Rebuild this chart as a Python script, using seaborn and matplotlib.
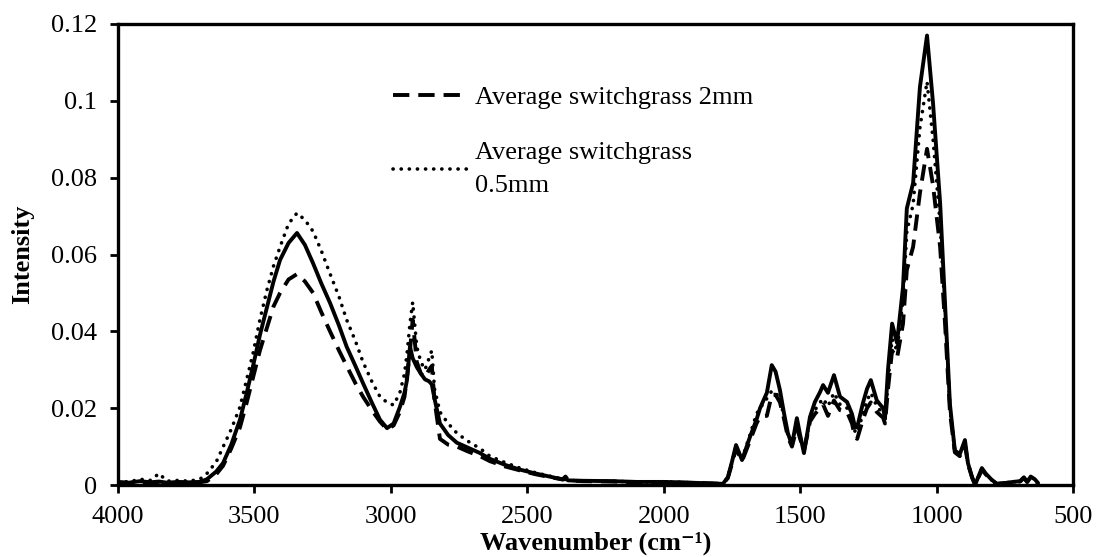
import numpy as np
import pandas as pd
import matplotlib
matplotlib.use("Agg")
import matplotlib.pyplot as plt
import seaborn as sns

wavenumber = [
    4000, 3960, 3920, 3880, 3850, 3820, 3780, 3740, 3700, 3674,
    3640, 3615, 3585, 3553, 3530, 3505, 3480, 3454, 3430, 3406,
    3375, 3344, 3315, 3285, 3255, 3223, 3190, 3162, 3130, 3102,
    3070, 3040, 3014, 2990, 2967, 2950, 2941, 2930, 2920, 2905,
    2890, 2875, 2860, 2850, 2840, 2820, 2790, 2758, 2720, 2673,
    2637, 2580, 2527, 2470, 2406, 2370, 2360, 2350, 2300, 2186,
    2100, 2000, 1940, 1860, 1783, 1765, 1750, 1735, 1713, 1684,
    1660, 1647, 1622, 1604, 1590, 1574, 1560, 1545, 1530, 1512,
    1500, 1486, 1475, 1464, 1446, 1427, 1416, 1398, 1376, 1354,
    1328, 1310, 1299, 1291, 1270, 1255, 1241, 1219, 1196, 1189,
    1178, 1163, 1145, 1123, 1109, 1086, 1061, 1035, 1013, 987,
    969, 951, 933, 915, 896, 885, 870, 859, 845, 834,
    820, 800, 779, 750, 720, 694, 680, 668, 655, 640,
    628,
]

solid = [
    0.0008, 0.0006, 0.0010, 0.0007, 0.0009, 0.0006, 0.0008, 0.0007, 0.0008, 0.0015,
    0.0035, 0.0057, 0.0105, 0.0170, 0.0235, 0.0310, 0.0390, 0.0463, 0.0530, 0.0586,
    0.0630, 0.0656, 0.0625, 0.0577, 0.0525, 0.0474, 0.0415, 0.0360, 0.0310, 0.0265,
    0.0215, 0.0170, 0.0148, 0.0160, 0.0203, 0.0240, 0.0273, 0.0360, 0.0330, 0.0307,
    0.0290, 0.0275, 0.0270, 0.0262, 0.0225, 0.0160, 0.0130, 0.0110, 0.0098, 0.0083,
    0.0068, 0.0052, 0.0040, 0.0030, 0.0020, 0.0014, 0.0016, 0.0012, 0.0011, 0.0010,
    0.0008, 0.0008, 0.0007, 0.0005, 0.0003, 0.0020, 0.0060, 0.0104, 0.0065, 0.0125,
    0.0170, 0.0200, 0.0240, 0.0312, 0.0295, 0.0247, 0.0190, 0.0135, 0.0104, 0.0174,
    0.0130, 0.0083, 0.0130, 0.0177, 0.0216, 0.0242, 0.0260, 0.0240, 0.0286, 0.0230,
    0.0216, 0.0185, 0.0151, 0.0150, 0.0213, 0.0250, 0.0273, 0.0220, 0.0200, 0.0174,
    0.0300, 0.0420, 0.0370, 0.0515, 0.0720, 0.0786, 0.1036, 0.1170, 0.0994, 0.0734,
    0.0470, 0.0210, 0.0090, 0.0080, 0.0117, 0.0057, 0.0020, 0.0000, 0.0025, 0.0044,
    0.0030, 0.0015, 0.0003, 0.0005, 0.0008, 0.0010, 0.0020, 0.0008, 0.0022, 0.0015,
    0.0005,
]

switchgrass_2mm = [
    0.0006, 0.0005, 0.0008, 0.0006, 0.0007, 0.0005, 0.0006, 0.0006, 0.0007, 0.0010,
    0.0028, 0.0050, 0.0095, 0.0150, 0.0210, 0.0280, 0.0350, 0.0410, 0.0465, 0.0500,
    0.0535, 0.0549, 0.0530, 0.0500, 0.0450, 0.0400, 0.0350, 0.0310, 0.0265, 0.0230,
    0.0195, 0.0165, 0.0145, 0.0155, 0.0190, 0.0230, 0.0280, 0.0350, 0.0430, 0.0320,
    0.0290, 0.0280, 0.0300, 0.0310, 0.0220, 0.0120, 0.0105, 0.0100, 0.0088, 0.0075,
    0.0062, 0.0048, 0.0038, 0.0028, 0.0019, 0.0015, 0.0022, 0.0012, 0.0010, 0.0009,
    0.0007, 0.0007, 0.0006, 0.0005, 0.0003, 0.0018, 0.0055, 0.0095, 0.0062, 0.0115,
    0.0160, 0.0178, 0.0180, 0.0235, 0.0235, 0.0215, 0.0175, 0.0125, 0.0100, 0.0150,
    0.0120, 0.0090, 0.0125, 0.0165, 0.0185, 0.0200, 0.0210, 0.0180, 0.0220, 0.0195,
    0.0190, 0.0160, 0.0125, 0.0120, 0.0170, 0.0200, 0.0215, 0.0190, 0.0175, 0.0160,
    0.0250, 0.0350, 0.0330, 0.0420, 0.0560, 0.0620, 0.0760, 0.0875, 0.0780, 0.0620,
    0.0420, 0.0190, 0.0085, 0.0075, 0.0105, 0.0055, 0.0020, 0.0003, 0.0022, 0.0040,
    0.0028, 0.0013, 0.0003, 0.0005, 0.0007, 0.0009, 0.0018, 0.0008, 0.0020, 0.0013,
    0.0004,
]

switchgrass_05mm = [
    0.0010, 0.0008, 0.0015, 0.0012, 0.0030, 0.0010, 0.0012, 0.0010, 0.0015, 0.0030,
    0.0060, 0.0099, 0.0145, 0.0203, 0.0270, 0.0343, 0.0430, 0.0508, 0.0570, 0.0620,
    0.0680, 0.0708, 0.0690, 0.0660, 0.0610, 0.0550, 0.0490, 0.0430, 0.0375, 0.0320,
    0.0270, 0.0230, 0.0215, 0.0208, 0.0240, 0.0290, 0.0340, 0.0420, 0.0476, 0.0360,
    0.0320, 0.0300, 0.0330, 0.0350, 0.0250, 0.0190, 0.0160, 0.0135, 0.0115, 0.0095,
    0.0075, 0.0058, 0.0044, 0.0032, 0.0021, 0.0015, 0.0016, 0.0012, 0.0011, 0.0010,
    0.0008, 0.0008, 0.0007, 0.0005, 0.0003, 0.0020, 0.0058, 0.0100, 0.0068, 0.0130,
    0.0185, 0.0200, 0.0225, 0.0245, 0.0240, 0.0225, 0.0180, 0.0130, 0.0105, 0.0160,
    0.0125, 0.0090, 0.0130, 0.0170, 0.0195, 0.0215, 0.0225, 0.0205, 0.0240, 0.0210,
    0.0200, 0.0170, 0.0140, 0.0135, 0.0185, 0.0220, 0.0240, 0.0205, 0.0185, 0.0165,
    0.0270, 0.0380, 0.0350, 0.0480, 0.0660, 0.0730, 0.0930, 0.1050, 0.0900, 0.0680,
    0.0450, 0.0200, 0.0088, 0.0078, 0.0110, 0.0056, 0.0020, 0.0002, 0.0024, 0.0042,
    0.0029, 0.0014, 0.0003, 0.0005, 0.0008, 0.0010, 0.0019, 0.0008, 0.0021, 0.0014,
    0.0005,
]

label_2mm = "Average switchgrass 2mm"
label_05mm = "Average switchgrass\n0.5mm"

x_ticks = [4000, 3500, 3000, 2500, 2000, 1500, 1000, 500]
y_ticks = [0, 0.02, 0.04, 0.06, 0.08, 0.1, 0.12]
y_tick_labels = ["0", "0.02", "0.04", "0.06", "0.08", "0.1", "0.12"]

sns.set_theme(style="white", rc={"text.color": "black", "axes.labelcolor": "black",
                                 "xtick.color": "black", "ytick.color": "black"})
plt.rcParams["font.family"] = ["Liberation Serif", "DejaVu Serif"]

FS = 19

df = pd.DataFrame({"w": wavenumber, "solid": solid,
                   "d2": switchgrass_2mm, "d05": switchgrass_05mm})

fig = plt.figure(figsize=(10.96, 5.57), dpi=100)
ax = fig.add_axes([118 / 1096, 1 - 485 / 557, (1073 - 118) / 1096, (485 - 24) / 557])

sns.lineplot(data=df, x="w", y="solid", ax=ax, color="black", lw=2.8,
             label="_nolegend_", sort=False)
sns.lineplot(data=df, x="w", y="d2", ax=ax, color="black", lw=2.8,
             label=label_2mm, sort=False)
sns.lineplot(data=df, x="w", y="d05", ax=ax, color="black", lw=2.6,
             label=label_05mm, sort=False)
lines = ax.get_lines()
lines[1].set_linestyle((0, (4.2, 2.3)))
lines[2].set_linestyle((0, (0.05, 2.2)))
lines[2].set_dash_capstyle("round")

ax.set_xlim(4000, 500)
ax.set_ylim(0, 0.12)
ax.set_xticks(x_ticks)
ax.set_xticklabels([str(t) for t in x_ticks])
ax.set_yticks(y_ticks)
ax.set_yticklabels(y_tick_labels)
ax.tick_params(axis="both", direction="out", length=6, width=2.0,
               labelsize=FS, colors="black", labelcolor="black", bottom=True, left=True)
ax.tick_params(axis="y", pad=9)
ax.tick_params(axis="x", pad=9)
for s in ax.spines.values():
    s.set_visible(True)
    s.set_color("black")
    s.set_linewidth(2.4)

ax.set_xlabel("Wavenumber (cm\u207b\u00b9)", fontsize=FS, fontweight="bold", labelpad=3,
              color="black")
ax.set_ylabel("Intensity", fontsize=FS, fontweight="bold", labelpad=12, color="black")

leg = ax.legend(loc="upper left", bbox_to_anchor=((393 - 118) / 955, (485 - 86) / 461),
                frameon=False, fontsize=FS, handlelength=2.8, handletextpad=0.3,
                labelspacing=1.25, borderpad=0, borderaxespad=0, labelcolor="black")
for t in leg.get_texts():
    t.set_linespacing(1.6)

fig.savefig("out.png", dpi=100)
